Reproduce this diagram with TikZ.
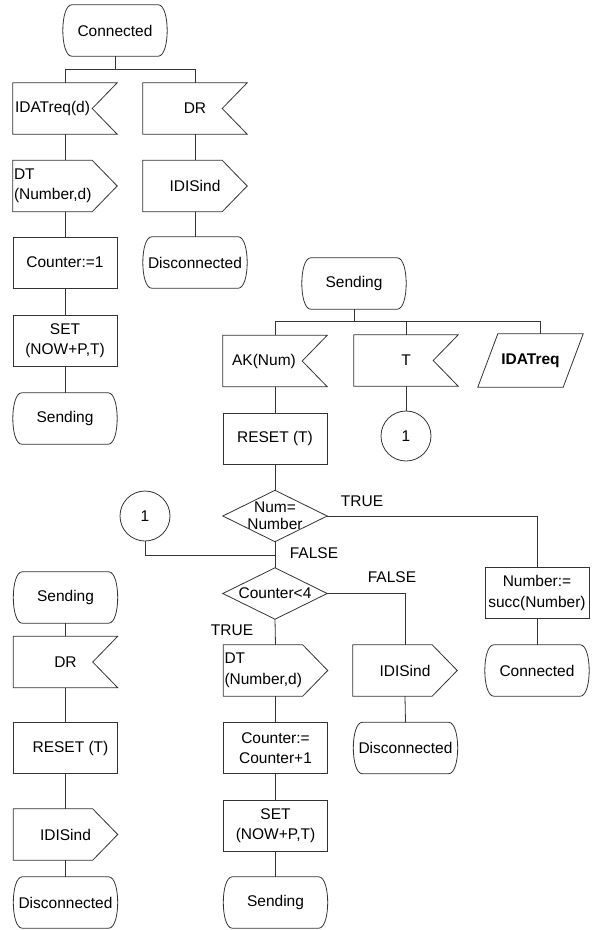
\documentclass[tikz,border=0pt]{standalone}
\usepackage{fontspec}
\setmainfont{Liberation Sans}
\usetikzlibrary{calc}
\begin{document}
\begin{tikzpicture}[x=1pt,y=-1pt,
  every node/.style={font=\fontsize{15.5}{20.5}\selectfont, inner sep=0pt, text=black},
  line/.style={draw=black!80, line width=0.8pt},
  box/.style={minimum width=104pt, minimum height=51pt},
  taskbox/.style={box, line, align=center},
  plainbox/.style={box},
  conn/.style={circle, line, minimum size=50pt},
  lbl/.style={}
]
\useasboundingbox (0,0) rectangle (593,930);

% ---- transition from Connected ----
\node[plainbox] (cA) at (115,30.5) {Connected};
\node[plainbox] (iA) at (65,108.5) {\hspace*{-25pt}IDATreq(d)};
\node[plainbox, text width=102pt, align=left] (oA) at (65,186) {DT\\(Number,d)};
\node[taskbox] (tA) at (65,262.5) {Counter:=1};
\node[taskbox] (tA2) at (65,340.5) {SET\\(NOW+P,T)};
\node[plainbox] (sA) at (65,418.5) {Sending};
\node[plainbox] (iB) at (195,108.5) {DR};
\node[plainbox] (oB) at (195,186) {IDISind};
\node[plainbox] (sB) at (195,262.5) {Disconnected};
\coordinate (barA) at (115,69);

% ---- transition from Sending ----
\node[plainbox] (sC) at (354,283.5) {Sending};
\coordinate (barC) at (354,321);
\node[plainbox] (iC1) at (275,361) {\hspace*{-22pt}AK(Num)};
\node[plainbox] (iC2) at (406,360.5) {T};
\node[plainbox, minimum width=105pt, minimum height=53pt] (pC) at (530.5,360.5) {\bfseries IDATreq};
\node[conn] (cn1) at (406,436) {1};
\node[taskbox] (tC) at (275,438.5) {RESET (T)};
\node[plainbox, align=center, font=\fontsize{15.5}{17}\selectfont] (dC1) at (275,516) {Num=\\Number};
\node[conn] (cn2) at (145,516) {1};
\coordinate (jn) at (275,555);
\node[plainbox] (dC2) at (275,593.5) {Counter<4};
\node[taskbox] (tC2) at (537,593) {Number:=\\succ(Number)};
\node[plainbox] (sC2) at (537,670.5) {Connected};
\node[plainbox, text width=102pt, align=left] (oC) at (275.5,670.5) {DT\\(Number,d)};
\node[taskbox] (tC3) at (275.5,748) {Counter:=\\Counter+1};
\node[taskbox] (tC4) at (275.5,825.5) {SET\\(NOW+P,T)};
\node[plainbox] (sC3) at (275.5,902.5) {Sending};
\node[plainbox] (oD) at (405,670.5) {IDISind};
\node[plainbox] (sD) at (405.5,748) {Disconnected};

\node[lbl] (lT1) at (362,501) {TRUE};
\node[lbl] (lF1) at (314,553) {FALSE};
\node[lbl] (lF2) at (392,577) {FALSE};
\node[lbl] (lT2) at (232,630) {TRUE};

% ---- transition from Sending on DR ----
\node[plainbox] (sE) at (65.5,597.5) {Sending};
\node[plainbox] (iE) at (65.5,662) {DR};
\node[taskbox] (tE) at (65.5,748) {\hspace*{10pt}RESET (T)};
\node[plainbox] (oE) at (65.5,834.5) {IDISind};
\node[plainbox] (sE2) at (65.5,902.5) {Disconnected};

% ---- symbol outlines ----
% states: straight top and bottom, bulging sides
\foreach \n in {cA,sA,sB,sC,sC2,sC3,sD,sE,sE2} {
  \draw[line] ([xshift=9pt]\n.north west) -- ([xshift=-9pt]\n.north east)
    .. controls ([xshift=-3pt]\n.north east) and ([yshift=-13pt]\n.north east) .. (\n.east)
    .. controls ([yshift=13pt]\n.south east) and ([xshift=-3pt]\n.south east) .. ([xshift=-9pt]\n.south east)
    -- ([xshift=9pt]\n.south west)
    .. controls ([xshift=3pt]\n.south west) and ([yshift=13pt]\n.south west) .. (\n.west)
    .. controls ([yshift=-13pt]\n.north west) and ([xshift=3pt]\n.north west) .. cycle;
}
% inputs
\foreach \n in {iA,iB,iC1,iC2,iE} {
  \draw[line] (\n.north west) -- (\n.north east) -- ([xshift=-25pt]\n.east)
    -- (\n.south east) -- (\n.south west) -- cycle;
}
% outputs
\foreach \n in {oA,oB,oC,oD,oE} {
  \draw[line] (\n.north west) -- ([xshift=-25pt]\n.north east) -- (\n.east)
    -- ([xshift=-25pt]\n.south east) -- (\n.south west) -- cycle;
}
% decisions
\foreach \n in {dC1,dC2} {
  \draw[line] (\n.north) -- (\n.east) -- (\n.south) -- (\n.west) -- cycle;
}
% save
\draw[line] (pC.south west) -- ([xshift=20pt]pC.north west) -- (pC.north east)
  -- ([xshift=-20pt]pC.south east) -- cycle;

% ---- flow lines ----
\draw[line] (cA.south) -- (barA);
\draw[line] (barA) -| (iA.north);
\draw[line] (barA) -| (iB.north);
\draw[line] (iA.south) -- (oA.north);
\draw[line] (oA.south) -- (tA.north);
\draw[line] (tA.south) -- (tA2.north);
\draw[line] (tA2.south) -- (sA.north);
\draw[line] (iB.south) -- (oB.north);
\draw[line] (oB.south) -- (sB.north);

\draw[line] (sC.south) -- (barC);
\draw[line] (barC) -| (iC1.north);
\draw[line] (barC) -| (iC2.north);
\draw[line] (barC) -| ($(pC.north)+(10,0)$);
\draw[line] (iC2.south) -- (cn1.north);
\draw[line] (iC1.south) -- (tC.north);
\draw[line] (tC.south) -- (dC1.north);
\draw[line] (dC1.east) -| (tC2.north);
\draw[line] (tC2.south) -- (sC2.north);
\draw[line] (dC1.south) -- (dC2.north);
\draw[line] (cn2.south) |- (jn);
\draw[line] (dC2.east) -| (oD.north);
\draw[line] (oD.south) -- (sD.north);
\draw[line] (dC2.south) -- (oC.north);
\draw[line] (oC.south) -- (tC3.north);
\draw[line] (tC3.south) -- (tC4.north);
\draw[line] (tC4.south) -- (sC3.north);

\draw[line] (sE.south) -- (iE.north);
\draw[line] (iE.south) -- (tE.north);
\draw[line] (tE.south) -- (oE.north);
\draw[line] (oE.south) -- (sE2.north);
\end{tikzpicture}
\end{document}
